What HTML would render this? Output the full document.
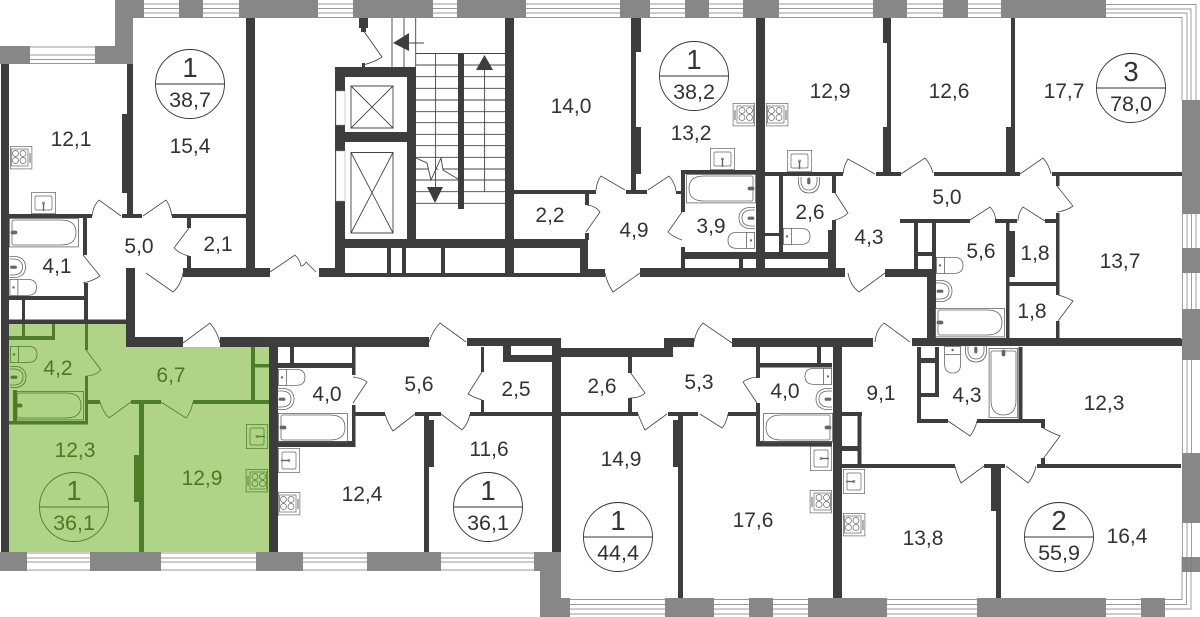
<!DOCTYPE html>
<html><head><meta charset="utf-8"><style>
html,body{margin:0;padding:0;background:#fff}
svg{display:block}
text{font-family:"Liberation Sans",sans-serif;font-size:21px;text-anchor:middle;fill:#333}
.g text,text.g{fill:#4a7a1e}
.b{font-size:27.500px}.s{font-size:21.500px}
use{color:#666}.gf{color:#4f7c26}
</style></head><body>
<svg width="1200" height="617" viewBox="0 0 1200 617" xmlns="http://www.w3.org/2000/svg">
<defs>
<g id="stove" fill="none" stroke="currentColor" stroke-width=".7"><rect x=".4" y=".4" width="21.5" height="22.5"/><rect x="1.5" y="3" width="16.5" height="17"/><circle cx="5.5" cy="7.5" r="3"/><circle cx="13" cy="7.5" r="3"/><circle cx="5.5" cy="14.5" r="3"/><circle cx="13" cy="14.5" r="3"/><path d="M20 7.500v9" stroke-width="2" stroke-dasharray="1 1"/></g>
<g id="sink" fill="none" stroke="currentColor" stroke-width=".7"><rect x=".4" y=".4" width="24.2" height="21.2"/><rect x="4" y="4" width="17" height="14" rx="1.5"/><path d="M12.500 11v8" stroke-width="1.4"/><circle cx="12.500" cy="11" r="1"/></g>
<g id="bath" fill="none" stroke="currentColor" stroke-width=".8"><rect x=".4" y=".4" width="69" height="28.5"/><path d="M3 4Q3 2 5 2H52Q67 2 67 14.500Q67 27 52 27H5Q3 27 3 25Z"/><rect x="2" y="13" width="6" height="3" rx="1.500" fill="currentColor"/></g>
<g id="toilet" fill="none" stroke="currentColor" stroke-width=".8"><rect x=".4" y=".4" width="8" height="16"/><circle cx="4" cy="8.400" r=".8" fill="currentColor"/><path d="M8.400 .4H18Q27 .4 27 8.400Q27 16.400 18 16.400H8.400"/></g>
<g id="basin" fill="none" stroke="currentColor" stroke-width=".8"><path d="M0 .4H6Q16 2 16 11Q16 20 6 21.600H0"/><path d="M0 3H5Q13 4 13 11Q13 18 5 19H0"/><rect x="1" y="10" width="6" height="2.400" rx="1.200" fill="currentColor"/></g>
</defs>

<path d="M9 324H127V347H269V552H9Z" fill="#afd488"/>

<g fill="#878787">
<path d="M115 0H1182V18H133V64H0V46H115Z"/>
<rect x="0" y="552" width="561" height="19"/>
<rect x="540" y="552" width="21" height="65"/>
<rect x="540" y="598" width="625" height="19"/>
<rect x="1182" y="100" width="18" height="472"/>
</g>
<g fill="#fff">
<rect x="144" y="0" width="35" height="18"/><rect x="203" y="0" width="36" height="18"/><rect x="318" y="0" width="35" height="18"/><rect x="433" y="0" width="24" height="18"/><rect x="526" y="0" width="94" height="18"/><rect x="650" y="0" width="35" height="18"/><rect x="709" y="0" width="34" height="18"/><rect x="779" y="0" width="94" height="18"/><rect x="907" y="0" width="36" height="18"/><rect x="968" y="0" width="33" height="18"/><rect x="1106" y="0" width="94" height="18"/>
<rect x="30" y="46" width="65" height="18"/>
<rect x="27" y="552" width="63" height="19"/><rect x="161" y="552" width="95" height="19"/><rect x="303" y="552" width="64" height="19"/><rect x="441" y="552" width="93" height="19"/>
<rect x="570" y="598" width="95" height="19"/><rect x="714" y="598" width="35" height="19"/><rect x="773" y="598" width="35" height="19"/><rect x="887" y="598" width="90" height="19"/><rect x="1106" y="598" width="35" height="19"/><rect x="1165" y="598" width="35" height="19"/>
<rect x="1182" y="214" width="18" height="34"/><rect x="1182" y="273" width="18" height="36"/><rect x="1182" y="360" width="18" height="93"/><rect x="1182" y="523" width="18" height="34"/><rect x="1182" y="572" width="18" height="45"/>
</g>
<g fill="none" stroke="#777" stroke-width=".7">
<path d="M144 4h35M144 8.500h35M144 13h35M144 17.500h35M203 4h36M203 8.500h36M203 13h36M203 17.500h36M318 4h35M318 8.500h35M318 13h35M318 17.500h35M433 4h24M433 8.500h24M433 13h24M433 17.500h24M526 4h94M526 8.500h94M526 13h94M526 17.500h94M650 4h35M650 8.500h35M650 13h35M650 17.500h35M709 4h34M709 8.500h34M709 13h34M709 17.500h34M779 4h94M779 8.500h94M779 13h94M779 17.500h94M907 4h36M907 8.500h36M907 13h36M907 17.500h36M968 4h33M968 8.500h33M968 13h33M968 17.500h33"/>
<path d="M1106 4.500H1196V100M1106 9H1191V100M1106 13H1187V100M1106 17.500H1182V100"/>
<path d="M30 47h65M30 55h65M30 59.500h65M30 63.500h65"/>
<path d="M27 553h63M27 558h63M27 562h63M27 570h63M161 553h95M161 558h95M161 562h95M161 570h95M303 553h64M303 558h64M303 562h64M303 570h64M441 553h93M441 558h93M441 562h93M441 570h93"/>
<path d="M570 599.500h95M570 604.500h95M570 609h95M570 614h95M714 599.500h35M714 604.500h35M714 609h35M714 614h35M773 599.500h35M773 604.500h35M773 609h35M773 614h35M887 599.500h90M887 604.500h90M887 609h90M887 614h90M1106 599.500h35M1106 604.500h35M1106 609h35M1106 614h35"/>
<path d="M1165 599.500H1182V557M1165 604.500H1186.500V557M1165 609H1191V557"/>
<path d="M1182.500 214v34M1187 214v34M1191.500 214v34M1196 214v34M1182.500 273v36M1187 273v36M1191.500 273v36M1196 273v36M1182.500 360v93M1187 360v93M1191.500 360v93M1182.500 523v34M1187 523v34M1191.500 523v34"/>
</g>

<g fill="#3d3d3d">
<rect x="1" y="64" width="8" height="488"/>
<rect x="127" y="64" width="6" height="152"/><rect x="122" y="114" width="6" height="79"/>
<rect x="246" y="18" width="9" height="252"/>
<rect x="9" y="214" width="83" height="4"/><rect x="122" y="214" width="20" height="4"/><rect x="172" y="214" width="74" height="4"/>
<rect x="187" y="218" width="4" height="10"/><rect x="187" y="256" width="4" height="12"/>
<rect x="183" y="268" width="87" height="9"/>
<rect x="83" y="218" width="4" height="37"/><rect x="84" y="283" width="4" height="41"/>
<rect x="9" y="296" width="76" height="4"/><rect x="22" y="300" width="3" height="20"/>
<rect x="9" y="319.500" width="118" height="4.500"/>
<rect x="126" y="268" width="9" height="79"/>
<rect x="126" y="337" width="57" height="10"/><rect x="220" y="337" width="209" height="10"/>
<rect x="467" y="338" width="94" height="8"/>
<rect x="269" y="337" width="9" height="215"/>
<rect x="503" y="338" width="8" height="24"/><rect x="503" y="355" width="49" height="7"/>
<rect x="552" y="338" width="9" height="214"/>
<rect x="561" y="348" width="112" height="9"/><rect x="664" y="338" width="9" height="19"/>
<rect x="664" y="338" width="30" height="9"/><rect x="732" y="338" width="141" height="9"/>
<rect x="912" y="338" width="269" height="8"/>
<rect x="355" y="412" width="30" height="4"/><rect x="415" y="412" width="26" height="4"/><rect x="470" y="412" width="168" height="4"/><rect x="668" y="412" width="30" height="4"/><rect x="728" y="412" width="29" height="4"/>
<rect x="352" y="347" width="3.500" height="28"/><rect x="352" y="405" width="3.500" height="42"/>
<rect x="278" y="441" width="77" height="6"/><rect x="278" y="363" width="74" height="5"/><rect x="290" y="347" width="4" height="16"/>
<rect x="481" y="347" width="3" height="25"/><rect x="481" y="400" width="3" height="12"/>
<rect x="424" y="416" width="5" height="136"/><rect x="424" y="420" width="10" height="47"/>
<rect x="628" y="357" width="4" height="16"/><rect x="628" y="398" width="4" height="14"/>
<rect x="678" y="416" width="5" height="182"/><rect x="673" y="420" width="10" height="47"/>
<rect x="756" y="347" width="4" height="31"/><rect x="756" y="403" width="4" height="43"/>
<rect x="756" y="441" width="76" height="5.500"/><rect x="760" y="363" width="72" height="4.500"/><rect x="817" y="347" width="4" height="18"/>
<rect x="833" y="338" width="9" height="260"/>
<rect x="842" y="412" width="20" height="4"/><rect x="842" y="446" width="16" height="5"/><rect x="857.500" y="412" width="4" height="54"/>
<rect x="842" y="464" width="113" height="4"/><rect x="984" y="464" width="21" height="4"/><rect x="1037" y="464" width="144" height="4"/>
<rect x="996" y="468" width="5" height="130"/><rect x="991" y="468" width="10" height="43"/>
<rect x="917" y="347" width="4" height="76"/><rect x="917" y="419" width="31" height="4"/><rect x="977" y="419" width="68" height="4"/>
<rect x="1018.500" y="347" width="4" height="73"/>
<rect x="935" y="347" width="4" height="50"/><rect x="921" y="358" width="14" height="5"/><rect x="921" y="393" width="18" height="4"/>
<rect x="1041" y="423" width="4" height="5"/><rect x="1041" y="458" width="4" height="6"/>
<rect x="1011" y="18" width="4" height="156"/><rect x="1006" y="127" width="9" height="47"/>
<rect x="934" y="172" width="86" height="4"/><rect x="1052" y="172" width="130" height="4"/>
<rect x="1056" y="176" width="3.500" height="10"/><rect x="1056" y="213" width="3.500" height="82"/><rect x="1056" y="321" width="3.500" height="18"/>
<rect x="900" y="219" width="70" height="4"/><rect x="995" y="219" width="22" height="4"/><rect x="1045" y="219" width="14" height="4"/>
<rect x="1006" y="223" width="3.500" height="116"/><rect x="1006" y="231" width="9" height="46"/>
<rect x="1009" y="282" width="50" height="4"/>
<rect x="932" y="223" width="4" height="49"/><rect x="927" y="269" width="9" height="70"/>
<rect x="885" y="269" width="42" height="8"/>
<rect x="914" y="223" width="4" height="46"/><rect x="918" y="252" width="14" height="4"/>
<rect x="912" y="339" width="270" height="7"/>
<rect x="631" y="18" width="10" height="34"/><rect x="631" y="52" width="5" height="75"/><rect x="631" y="127" width="10" height="47"/><rect x="631" y="174" width="5" height="16"/>
<rect x="626" y="190" width="21" height="4"/><rect x="676" y="191" width="5" height="3"/>
<rect x="681" y="170" width="4" height="42"/><rect x="681" y="247" width="4" height="23"/><rect x="681" y="170" width="75" height="4"/>
<rect x="756" y="18" width="9" height="258"/>
<rect x="765" y="172" width="78" height="4"/><rect x="876" y="172" width="25" height="4"/>
<rect x="779" y="176" width="4" height="77"/><rect x="832" y="176" width="4" height="17"/><rect x="832" y="220" width="4" height="50"/><rect x="828" y="230" width="8" height="40"/>
<rect x="681" y="252" width="75" height="7"/><rect x="765" y="252" width="65" height="7"/><rect x="739" y="259" width="4" height="11"/>
<rect x="765" y="233" width="16" height="3"/>
<rect x="640" y="268" width="205" height="9"/><rect x="587" y="269" width="18" height="8"/>
<rect x="883" y="18" width="8" height="25"/><rect x="887" y="43" width="4" height="84"/><rect x="883" y="127" width="8" height="47"/>
<rect x="505" y="18" width="9" height="259"/>
<rect x="514" y="190" width="82" height="4"/>
<rect x="585" y="194" width="4" height="11"/><rect x="585" y="233" width="4" height="7"/>
<rect x="335" y="239" width="253" height="9"/>
<rect x="335" y="67" width="10" height="210"/><rect x="335" y="67" width="81" height="10"/><rect x="407" y="67" width="9" height="181"/><rect x="335" y="132" width="72" height="10"/>
<rect x="319" y="268" width="26" height="9"/><rect x="345" y="273" width="160" height="4"/><rect x="514" y="273" width="66" height="4"/>
<rect x="387" y="248" width="4" height="25"/><rect x="402" y="248" width="4" height="25"/><rect x="441" y="248" width="4" height="25"/><rect x="580" y="248" width="8" height="29"/>
<rect x="359" y="18" width="9" height="10"/><rect x="361" y="28" width="5" height="4"/><rect x="362" y="63" width="3" height="4"/>
<rect x="458" y="54" width="6" height="155"/>
</g>
<rect x="336" y="91" width="9" height="34" fill="#fff" stroke="#999" stroke-width=".5"/>
<rect x="336" y="151" width="9" height="50" fill="#fff" stroke="#999" stroke-width=".5"/>

<g fill="none" stroke="#444" stroke-width=".9">
<path d="M351 86H393V128H351ZM351 86L393 128M393 86L351 128"/>
<path d="M351 152.500H393V233H351ZM351 152.500L393 233M393 152.500L351 233"/>
<path d="M392 18V67M404 18V67M415.700 18V67"/>
<path d="M416 53.500H505M416 65H458M416 76.700H458M416 88.300H458M416 100H458M416 111.700H458M416 122.700H458M416 134.300H458M416 145.700H458M416 157.300H458M416 169H458M416 180H458M416 191.700H458M416 203.300H458"/>
<path d="M464 65H505M464 76.700H505M464 88.300H505M464 100H505M464 111.700H505M464 122.700H505M464 134.300H505M464 145.700H505M464 157.300H505M464 169H505M464 180H505M464 191.700H505M464 203.300H505"/>
<path d="M484.600 60V192M405 43H424"/>
<path d="M416 158L427 163L431 180L441 158L443 170L458 179" fill="#fff"/>
<path d="M435.600 54V190"/>
<path d="M363 30L382 57Q375 62 363 65"/>
</g>
<g fill="#3d3d3d"><path d="M393 43L409 33V51Z"/><path d="M427 187H443L435 203Z"/><path d="M476 70H493L484.500 55Z"/></g>

<g fill="#4f7c26">
<rect x="251" y="347" width="4" height="53"/><rect x="251" y="364" width="18" height="3.500"/>
<rect x="193" y="400" width="76" height="4"/><rect x="131" y="400" width="30" height="4"/><rect x="88" y="400" width="12" height="4"/>
<rect x="139" y="404" width="5" height="148"/><rect x="134" y="455" width="10" height="47"/>
<rect x="85" y="324" width="3" height="26"/><rect x="85" y="376" width="3" height="48"/>
<rect x="9" y="421" width="79" height="3.500"/><rect x="13" y="390" width="4" height="31"/>
<rect x="9" y="336" width="46" height="4"/><rect x="22" y="324" width="3" height="13"/><rect x="52" y="324" width="3" height="14"/>
</g>

<g fill="none" stroke="#444" stroke-width=".8">
<path d="M92 216Q93 206 99 200L121 216"/><path d="M172 216Q170 205 166 200L143 216"/><path d="M189 228L174 248Q180 254 189 256"/><path d="M83 255L100 276Q93 281 83 283"/><path d="M183 273Q181 285 173 292L146 273"/><path d="M270 272L295 255Q300 260 301 266Q304 266 306 262L316 272"/>
<path d="M183 343L210 323Q218 333 220 343"/>
<path d="M429 342Q433 330 440 323L466 342"/><path d="M353 377Q362 378 367 382L353 403"/><path d="M385 414Q388 424 393 431L415 414"/><path d="M482 372L468 394Q473 397 482 400"/><path d="M470 414Q468 424 462 430L441 414"/>
<path d="M694 342Q696 330 703 323L732 343"/><path d="M630 372L645 393Q640 398 630 398"/><path d="M638 414Q642 424 645 430L667 414"/><path d="M757 377Q748 378 743 382L757 403"/><path d="M728 414Q726 424 722 428L700 414"/>
<path d="M875 342Q876 330 884 323L910 342"/><path d="M948 421L970 436Q975 430 977 421"/><path d="M1043 428Q1050 432 1060 436L1043 459"/><path d="M955 466Q957 475 961 483L984 466"/><path d="M1036 466Q1034 476 1028 483L1006 466"/>
<path d="M843 174Q844 165 848 159L875 174"/><path d="M901 174L925 158Q931 165 933 173"/><path d="M1020 174L1043 158Q1049 165 1051 174"/><path d="M1057 186L1073 206Q1066 211 1057 212"/><path d="M970 220L990 207Q995 212 996 221"/><path d="M1018 221Q1018 213 1023 207L1045 221"/><path d="M1058 295Q1066 297 1073 301L1058 321"/>
<path d="M835 193L848 213Q843 218 835 220"/><path d="M848 273Q850 285 859 292L885 273"/>
<path d="M596 190Q597 181 601 176L625 190"/><path d="M648 190L669 176Q675 183 676 191"/><path d="M682 212L668 232Q673 237 682 240"/><path d="M587 205Q596 206 600 212L586 232"/><path d="M605 273Q607 283 613 292L640 273"/>
</g>
<g fill="none" stroke="#4f7c26" stroke-width=".8">
<path d="M86 350L101 370Q95 376 86 376"/><path d="M100 402Q103 412 109 418L131 402"/><path d="M193 402Q191 412 186 418L161 402"/>
</g>

<use href="#stove" transform="translate(10,146)"/>
<use href="#stove" class="gf" transform="translate(268,469) scale(-1,1)"/>
<use href="#stove" transform="translate(278,492)"/>
<use href="#stove" transform="translate(755,103) scale(-1,1)"/>
<use href="#stove" transform="translate(766,103)"/>
<use href="#stove" transform="translate(832,490) scale(-1,1)"/>
<use href="#stove" transform="translate(843,513)"/>

<use href="#sink" transform="translate(31,192)"/>
<use href="#sink" class="gf" transform="translate(246,449) rotate(-90)"/>
<use href="#sink" transform="translate(300,448) rotate(90)"/>
<use href="#sink" transform="translate(710,148)"/>
<use href="#sink" transform="translate(787,150)"/>
<use href="#sink" transform="translate(810,471) rotate(-90)"/>
<use href="#sink" transform="translate(865,469) rotate(90)"/>

<use href="#bath" transform="translate(9,218)"/>
<use href="#bath" class="gf" transform="translate(14,391)"/>
<use href="#bath" transform="translate(278,413)"/>
<use href="#bath" transform="translate(756,174) scale(-1,1)"/>
<use href="#bath" transform="translate(935,308)"/>
<use href="#bath" transform="translate(833,413) scale(-1,1)"/>
<use href="#bath" transform="translate(1018,348) rotate(90)"/>

<use href="#toilet" transform="translate(9.500,279)"/>
<use href="#toilet" class="gf" transform="translate(10,346)"/>
<use href="#toilet" transform="translate(278,369)"/>
<use href="#toilet" transform="translate(755,232) scale(-1,1)"/>
<use href="#toilet" transform="translate(783,228)"/>
<use href="#toilet" transform="translate(936,257)"/>
<use href="#toilet" transform="translate(832,368) scale(-1,1)"/>
<use href="#toilet" transform="translate(961,346) rotate(90)"/>

<use href="#basin" transform="translate(9.500,256)"/>
<use href="#basin" class="gf" transform="translate(10,366)"/>
<use href="#basin" transform="translate(278,388)"/>
<use href="#basin" transform="translate(755,207) scale(-1,1)"/>
<use href="#basin" transform="translate(820,177) rotate(90)"/>
<use href="#basin" transform="translate(936,280)"/>
<use href="#basin" transform="translate(832,388) scale(-1,1)"/>
<use href="#basin" transform="translate(987,346) rotate(90)"/>

<g fill="none" stroke="#333" stroke-width=".9">
<circle cx="190" cy="84" r="34.500"/><path d="M155.500 84H224.500"/>
<circle cx="694" cy="76" r="34.500"/><path d="M659.500 76H728.500"/>
<circle cx="1131" cy="88" r="34.500"/><path d="M1096.500 88H1165.500"/>
<circle cx="488" cy="507" r="34.500"/><path d="M453.500 507H522.500"/>
<circle cx="618" cy="537" r="34.500"/><path d="M583.500 537H652.500"/>
<circle cx="1059" cy="537" r="34.500"/><path d="M1024.500 537H1093.500"/>
</g>
<g fill="none" stroke="#4f7c26" stroke-width=".9"><circle cx="74" cy="507" r="34.500"/><path d="M39.500 507H108.500"/></g>

<text class="b" x="190" y="77">1</text><text class="s" x="190" y="107">38,7</text>
<text class="b" x="694" y="69">1</text><text class="s" x="694" y="99">38,2</text>
<text class="b" x="1131" y="81">3</text><text class="s" x="1131" y="111">78,0</text>
<text class="b" x="488" y="500">1</text><text class="s" x="488" y="530">36,1</text>
<text class="b" x="618" y="530">1</text><text class="s" x="618" y="560">44,4</text>
<text class="b" x="1059" y="530">2</text><text class="s" x="1059" y="560">55,9</text>
<g class="g"><text class="b" x="74" y="500">1</text><text class="s" x="74" y="530">36,1</text>
<text x="58" y="375">4,2</text><text x="171" y="382">6,7</text><text x="75" y="457">12,3</text><text x="202" y="485">12,9</text></g>
<text x="71" y="146">12,1</text><text x="190" y="153">15,4</text><text x="139" y="253">5,0</text><text x="218" y="251">2,1</text><text x="57" y="273">4,1</text>
<text x="571" y="113">14,0</text><text x="550" y="222">2,2</text><text x="691" y="140">13,2</text><text x="830" y="98">12,9</text><text x="711" y="233">3,9</text><text x="634" y="237">4,9</text><text x="810" y="219">2,6</text><text x="869" y="244">4,3</text>
<text x="949" y="98">12,6</text><text x="1064" y="98">17,7</text><text x="947" y="204">5,0</text><text x="981" y="258">5,6</text><text x="1035" y="260">1,8</text><text x="1032" y="318">1,8</text><text x="1120" y="268">13,7</text>
<text x="327" y="401">4,0</text><text x="419" y="391">5,6</text><text x="516" y="396">2,5</text><text x="489" y="456">11,6</text><text x="362" y="501">12,4</text>
<text x="602" y="393">2,6</text><text x="699" y="389">5,3</text><text x="785" y="398">4,0</text><text x="621" y="466">14,9</text><text x="753" y="527">17,6</text>
<text x="881" y="400">9,1</text><text x="967" y="402">4,3</text><text x="1104" y="410">12,3</text><text x="923" y="545">13,8</text><text x="1127" y="543">16,4</text>
</svg>
</body></html>
